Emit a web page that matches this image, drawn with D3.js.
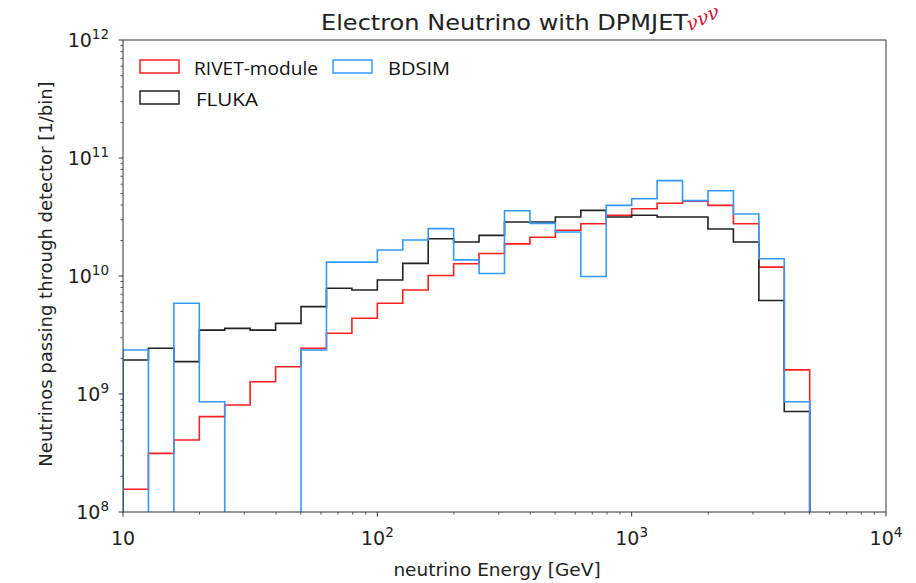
<!DOCTYPE html>
<html>
<head>
<meta charset="utf-8">
<script src="https://cdn.jsdelivr.net/npm/d3@7"></script>
<style>
  body { margin: 0; background: #fff; }
  svg { display: block; }
</style>
</head>
<body>
<svg id="chart" width="916" height="583"></svg>
<script>
// Bin edges: 10 bins per decade from 10^1.0 to 10^3.7 GeV
const binExponents = [1.0,1.1,1.2,1.3,1.4,1.5,1.6,1.7,1.8,1.9,2.0,2.1,2.2,2.3,2.4,2.5,2.6,2.7,2.8,2.9,3.0,3.1,3.2,3.3,3.4,3.5,3.6,3.7];

const rivet = [1.56e8,3.14e8,4.07e8,6.43e8,8.07e8,1.27e9,1.70e9,2.44e9,3.27e9,4.38e9,
               5.87e9,7.6e9,1.01e10,1.27e10,1.55e10,1.87e10,2.13e10,2.44e10,2.77e10,3.27e10,
               3.72e10,4.13e10,4.3e10,3.97e10,2.77e10,1.19e10,1.6e9];
const fluka = [1.94e9,2.44e9,1.88e9,3.48e9,3.6e9,3.48e9,3.97e9,5.5e9,7.87e9,7.6e9,
               9.25e9,1.28e10,2.07e10,1.94e10,2.21e10,2.87e10,2.87e10,3.16e10,3.6e10,3.16e10,
               3.27e10,3.16e10,3.16e10,2.5e10,1.94e10,6.2e9,7.1e8];
const bdsim = [2.36e9,0,5.87e9,8.6e8,0,0,0,2.36e9,1.31e10,1.31e10,
               1.66e10,2.02e10,2.52e10,1.37e10,1.05e10,3.57e10,2.79e10,2.36e10,9.9e9,3.97e10,
               4.52e10,6.43e10,4.35e10,5.28e10,3.35e10,1.4e10,8.6e8];

const seriesNames = ["RIVET-module","FLUKA","BDSIM"];
const seriesColors = ["#ff2020","#222222","#3399ff"];
const seriesData = [rivet, fluka, bdsim];

const xTickValues = [10,100,1000,10000];
const xTickLabels = ["10","10|2","10|3","10|4"];
const yTickValues = [1e8,1e9,1e10,1e11,1e12];
const yTickLabels = ["10|8","10|9","10|10","10|11","10|12"];

const titleText = "Electron Neutrino with DPMJET";
const xLabel = "neutrino Energy [GeV]";
const yLabel = "Neutrinos passing through detector [1/bin]";

const svg = d3.select("#chart");
const m = {left: 123, right: 886, top: 40, bottom: 512};

const x = d3.scaleLog().domain([10, 1e4]).range([m.left, m.right]);
const y = d3.scaleLog().domain([1e8, 1e12]).range([m.bottom, m.top]);

const edges = binExponents.map(e => Math.pow(10, e));

svg.append("defs").append("clipPath").attr("id","clip")
  .append("rect").attr("x", m.left).attr("y", m.top)
  .attr("width", m.right - m.left).attr("height", m.bottom - m.top);

// step paths
const floorVal = 1e6;
function stepPoints(vals) {
  const pts = [];
  pts.push([edges[0], floorVal]);
  vals.forEach((v, i) => {
    const vv = v > 0 ? v : floorVal;
    pts.push([edges[i], vv]);
    pts.push([edges[i+1], vv]);
  });
  pts.push([edges[vals.length], floorVal]);
  return pts;
}
const line = d3.line().x(d => x(d[0])).y(d => y(d[1]));

const g = svg.append("g").attr("clip-path","url(#clip)");
seriesData.forEach((vals, k) => {
  g.append("path")
    .attr("d", line(stepPoints(vals)))
    .attr("fill","none")
    .attr("stroke", seriesColors[k])
    .attr("stroke-width", 1.6)
    .attr("stroke-linejoin","miter");
});

// frame
svg.append("rect").attr("x", m.left).attr("y", m.top)
  .attr("width", m.right - m.left).attr("height", m.bottom - m.top)
  .attr("fill","none").attr("stroke","#333").attr("stroke-width",1);

const font = "DejaVu Sans, sans-serif";
const tickFs = 19;

// x minor ticks
const xMinor = [];
for (let d = 10; d < 1e4; d *= 10) for (let k = 2; k <= 9; k++) xMinor.push(d*k);
svg.append("g").selectAll("line").data(xMinor).join("line")
  .attr("x1", d => x(d)).attr("x2", d => x(d))
  .attr("y1", m.bottom).attr("y2", m.bottom + 2.5)
  .attr("stroke","#333").attr("stroke-width",0.8);
svg.append("g").selectAll("line").data(xTickValues).join("line")
  .attr("x1", d => x(d)).attr("x2", d => x(d))
  .attr("y1", m.bottom).attr("y2", m.bottom + 4.5)
  .attr("stroke","#333").attr("stroke-width",1);
xTickValues.forEach((v, i) => {
  const t = svg.append("text").attr("x", x(v)).attr("y", 545)
    .attr("text-anchor","middle").attr("font-family", font)
    .attr("font-size", tickFs).attr("fill","#222");
  const parts = xTickLabels[i].split("|");
  t.append("tspan").text(parts[0]);
  if (parts[1]) t.append("tspan").attr("dy", -8).attr("font-size", 13.5).text(parts[1]);
});

// y ticks
const yMinor = [];
for (let d = 1e8; d < 1e12; d *= 10) for (let k = 2; k <= 9; k++) yMinor.push(d*k);
svg.append("g").selectAll("line").data(yMinor).join("line")
  .attr("y1", d => y(d)).attr("y2", d => y(d))
  .attr("x1", m.left).attr("x2", m.left - 2.5)
  .attr("stroke","#333").attr("stroke-width",0.8);
svg.append("g").selectAll("line").data(yTickValues).join("line")
  .attr("y1", d => y(d)).attr("y2", d => y(d))
  .attr("x1", m.left).attr("x2", m.left - 4.5)
  .attr("stroke","#333").attr("stroke-width",1);
yTickValues.forEach((v, i) => {
  const t = svg.append("text").attr("x", 109).attr("y", y(v) + 7)
    .attr("text-anchor","end").attr("font-family", font)
    .attr("font-size", tickFs).attr("fill","#222");
  const parts = yTickLabels[i].split("|");
  t.append("tspan").text(parts[0]);
  t.append("tspan").attr("dy", -8).attr("font-size", 13.5).text(parts[1]);
});

// axis labels
svg.append("text").attr("x", 497).attr("y", 576)
  .attr("text-anchor","middle").attr("font-family", font)
  .attr("font-size", 18.5).attr("fill","#222").text(xLabel);
svg.append("text")
  .attr("transform", `translate(52, 274) rotate(-90)`)
  .attr("text-anchor","middle").attr("font-family", font)
  .attr("font-size", 18).attr("fill","#222").text(yLabel);

// title
svg.append("text").attr("x", 321).attr("y", 30)
  .attr("font-family", font).attr("font-size", 21).attr("fill","#222")
  .attr("textLength", 367).attr("lengthAdjust","spacingAndGlyphs").text(titleText);
svg.append("text")
  .attr("transform", "translate(690, 31) rotate(-26)")
  .attr("font-family", "DejaVu Serif, serif").attr("font-style","italic")
  .attr("font-size", 19).attr("fill","#d0103a").text("ννν");

// legend
const legFont = "Open Sans, sans-serif";
const legItems = [
  {name: seriesNames[0], color: seriesColors[0], px: 140, py: 60, tx: 194, ty: 75, w: 124},
  {name: seriesNames[2], color: seriesColors[2], px: 333, py: 60, tx: 388, ty: 75, w: 62},
  {name: seriesNames[1], color: seriesColors[1], px: 140, py: 91, tx: 196, ty: 106, w: 62}
];
legItems.forEach(it => {
  svg.append("rect").attr("x", it.px).attr("y", it.py).attr("width", 39).attr("height", 13)
    .attr("fill","none").attr("stroke", it.color).attr("stroke-width", 1.5);
  svg.append("text").attr("x", it.tx).attr("y", it.ty)
    .attr("font-family", legFont).attr("font-size", 18).attr("fill","#111")
    .attr("textLength", it.w).attr("lengthAdjust","spacingAndGlyphs").text(it.name);
});
</script>
</body>
</html>
